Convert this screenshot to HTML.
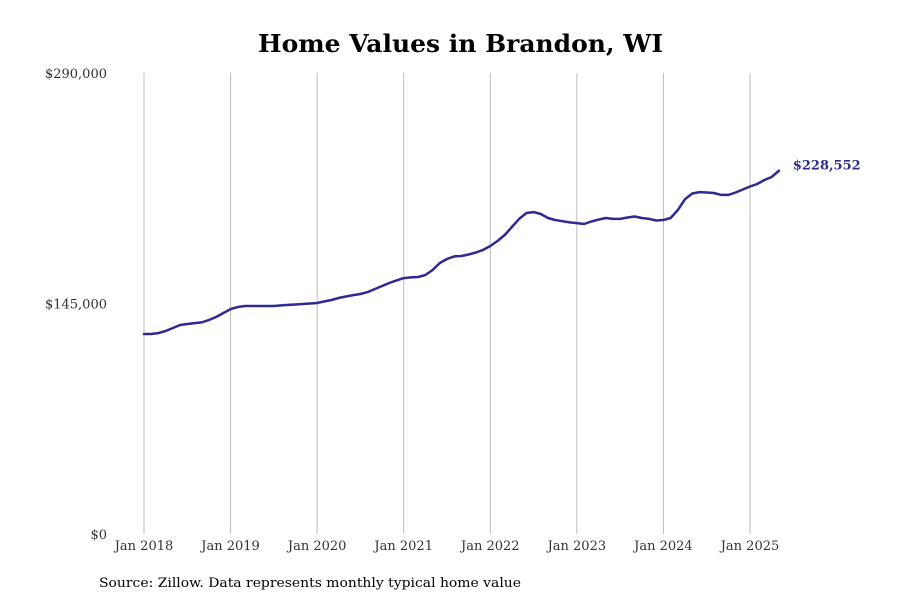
<!DOCTYPE html>
<html><head><meta charset="utf-8"><style>
html,body{margin:0;padding:0;background:#fff;}
svg{display:block;font-family:"DejaVu Serif","Liberation Serif",serif;}
</style></head><body>
<svg id="chart" width="900" height="600" viewBox="0 0 900 600" xmlns="http://www.w3.org/2000/svg">
<rect width="900" height="600" fill="#fff"/>
<text x="460.5" y="52" text-anchor="middle" font-size="24" font-weight="bold" textLength="405" lengthAdjust="spacingAndGlyphs">Home Values in Brandon, WI</text>
<g id="grid"></g>
<g id="yaxis"></g>
<g id="xaxis"></g>
<g id="series"></g>
<text x="99" y="587" font-size="13" textLength="422" lengthAdjust="spacingAndGlyphs">Source: Zillow. Data represents monthly typical home value</text>
</svg>
<script>
const startYear = 2018;
const values = [125.8,125.8,126.4,127.7,129.6,131.5,132.1,132.7,133.1,134.6,136.5,139.0,
141.5,142.8,143.4,143.4,143.4,143.4,143.4,143.8,144.1,144.4,144.7,145.0,
145.3,146.3,147.2,148.5,149.4,150.3,151.0,152.2,154.1,156.0,157.9,159.5,
161.0,161.4,161.7,162.9,166.1,170.5,173.0,174.6,174.9,175.8,177.1,178.7,
181.2,184.3,188.1,193.1,198.2,201.9,202.5,201.3,198.8,197.5,196.8,196.0,
195.6,195.0,196.6,197.8,198.8,198.2,198.2,199.1,199.7,198.8,198.2,197.2,
197.5,198.8,203.9,210.7,214.2,215.1,214.8,214.5,213.3,213.3,214.8,216.7,
218.6,220.2,222.7,224.6,228.552];
const yTicks = [0,145000,290000];
const yTickLabels = ["$0","$145,000","$290,000"];
const xTickLabels = ["Jan 2018","Jan 2019","Jan 2020","Jan 2021","Jan 2022","Jan 2023","Jan 2024","Jan 2025"];
const lastLabel = "$228,552";

const NS="http://www.w3.org/2000/svg";
const x0=144, pxPerMonth=(750-144)/84;
const xs = m => x0 + m*pxPerMonth;
const ys = v => 534 - v/290000*461;
function mk(tag, attrs, parent, text){const e=document.createElementNS(NS,tag);for(const k in attrs)e.setAttribute(k,attrs[k]);if(text!==undefined)e.textContent=text;parent.appendChild(e);return e;}
const grid=document.getElementById('grid'), xa=document.getElementById('xaxis'), ya=document.getElementById('yaxis'), ser=document.getElementById('series');
xTickLabels.forEach((t,i)=>{
  const x=xs(i*12);
  const l=mk('line',{x1:x,x2:x,y1:73,y2:534,stroke:'#bdbdbd','stroke-width':1},grid);
  
  
  const tx=mk('text',{x:x,y:550,'text-anchor':'middle','font-size':13,fill:'#333'},xa,t);
  
  
});
yTicks.forEach((v,i)=>{
  const tx=mk('text',{x:107,y:ys(v)+5,'text-anchor':'end','font-size':13,fill:'#333'},ya,yTickLabels[i]);
  
  
});
const pts=values.map((v,i)=>xs(i).toFixed(1)+','+ys(v*(v<1000?1000:1)).toFixed(1));
const p=mk('polyline',{points:pts.join(' '),fill:'none',stroke:'#2e2a94','stroke-width':2.5,'stroke-linejoin':'round','stroke-linecap':'round'},ser);


const lv=values[values.length-1];
const lt=mk('text',{x:xs(values.length-1)+14,y:ys(lv*(lv<1000?1000:1))-1,'font-size':13,'font-weight':'bold',fill:'#2e2a94'},ser,lastLabel);


</script>
</body></html>
